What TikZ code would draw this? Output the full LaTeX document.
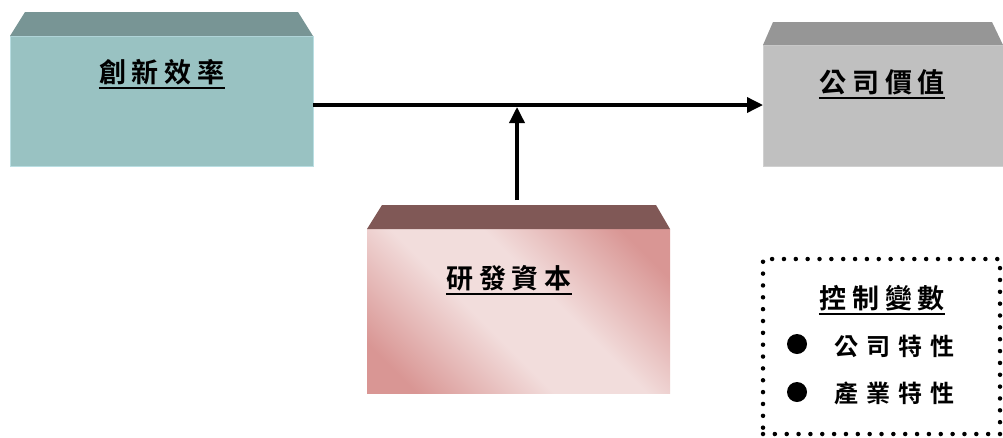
\documentclass[tikz,border=0pt]{standalone}
\usepackage{fontspec}
\setmainfont{Noto Sans CJK TC}[BoldFont={* Bold}]
\usetikzlibrary{arrows.meta,calc}
\definecolor{tealF}{RGB}{153,194,194}
\definecolor{tealT}{RGB}{120,149,149}
\definecolor{tealE}{RGB}{185,222,226}
\definecolor{grayF}{RGB}{192,192,192}
\definecolor{grayT}{RGB}{150,150,150}
\definecolor{grayE}{RGB}{208,208,208}
\definecolor{pinkL}{RGB}{242,221,220}
\definecolor{pinkD}{RGB}{217,150,148}
\definecolor{pinkT}{RGB}{128,88,86}
\pgfdeclarehorizontalshading{rdshade}{100bp}{color(0bp)=(pinkD); color(22bp)=(pinkD); color(43bp)=(pinkL); color(57bp)=(pinkL); color(78bp)=(pinkD); color(100bp)=(pinkD)}
\newcommand\gp{\kern6pt}
\newcommand\gq{\kern8pt}
\begin{document}
\begin{tikzpicture}[x=1pt,y=-1pt,
  front/.style={rectangle,inner sep=0pt,outer sep=0pt,line width=1pt},
  title/.style={inner sep=0pt,anchor=base,font=\fontsize{27}{27}\selectfont\bfseries},
  item/.style={inner sep=0pt,anchor=base west,font=\fontsize{24}{24}\selectfont\bfseries},
  uline/.style={line width=2pt},
  conn/.style={line width=3.5pt,-{Triangle[length=16pt,width=15pt]}},
  bul/.style={circle,fill=black,inner sep=0pt,minimum size=20pt}]
\useasboundingbox (0,0) rectangle (1003,437);
\fill[white] (0,0) rectangle (1003,437);
% box 1
\node[front,fill=tealF,draw=tealE,minimum width=303pt,minimum height=130pt] (b1) at (161.5,101) {};
\fill[tealT] (b1.north west) -- (25,12) -- (298,12) -- (b1.north east) -- cycle;
% box 2
\node[front,fill=grayF,draw=grayE,minimum width=240pt,minimum height=121pt] (b2) at (883,105.5) {};
\fill[grayT] (b2.north west) -- (773,22) -- (992,22) -- (b2.north east) -- cycle;
% box 3
\node[front,shading=rdshade,shading angle=45,minimum width=303pt,minimum height=164pt] (b3) at (518.5,311) {};
\fill[pinkT] (b3.north west) -- (382,205) -- (656,205) -- (b3.north east) -- cycle;
% labels
\node[title] (t1) at (162,82) {創\gp 新\gp 效\gp 率};
\draw[uline] ([yshift=-6pt]t1.base west) -- ([yshift=-6pt]t1.base east);
\node[title] (t2) at (882,92) {公\gp 司\gp 價\gp 值};
\draw[uline] ([yshift=-6pt]t2.base west) -- ([yshift=-6pt]t2.base east);
\node[title] (t3) at (509,288) {研\gp 發\gp 資\gp 本};
\draw[uline] ([yshift=-6pt]t3.base west) -- ([yshift=-6pt]t3.base east);
% connectors
\coordinate (m) at (517,105);
\coordinate (s) at (517,200);
\coordinate (mt) at (517,107);
\draw[conn] (b1.east |- m) -- (b2.west |- m);
\draw[conn] (s) -- (mt);
% control box
\node[rectangle,draw,line width=4.5pt,dash pattern=on 0pt off 11.85pt,line cap=round,minimum width=237pt,minimum height=175pt,inner sep=0pt] (ctrl) at (881.5,346.5) {};
\node[title] (t4) at (882,308) {控\gp 制\gp 變\gp 數};
\draw[uline] ([yshift=-6pt]t4.base west) -- ([yshift=-6pt]t4.base east);
\node[bul] (d1) at (797,344) {};
\node[item] (i1) at (834,355) {公\gq 司\gq 特\gq 性};
\node[bul] (d2) at (797,392) {};
\node[item] (i2) at (834,402) {產\gq 業\gq 特\gq 性};
\end{tikzpicture}
\end{document}
